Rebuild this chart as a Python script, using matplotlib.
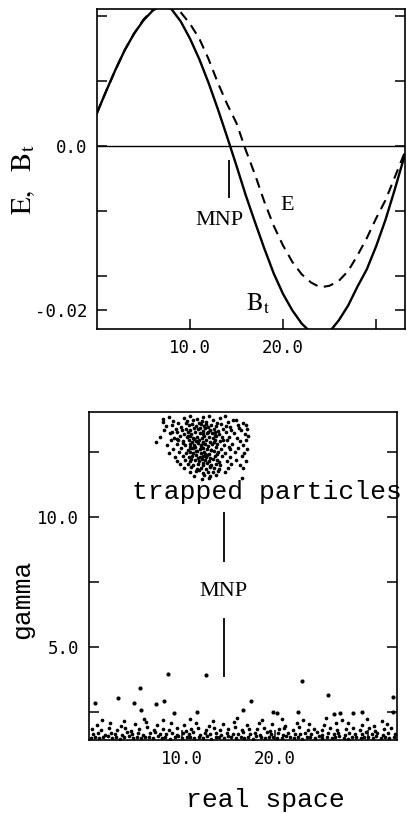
import numpy as np
import matplotlib
matplotlib.use('Agg')
import matplotlib.pyplot as plt

plt.rcParams['mathtext.fontset'] = 'stix'

# ---- top panel: fields along x ----
x_bt = [0.0, 1.0, 2.0, 3.0, 4.0, 5.0, 6.0, 7.0, 8.0, 9.0, 10.0, 11.0, 12.0, 13.0,
        14.0, 15.0, 16.0, 17.0, 18.0, 19.0, 20.0, 21.0, 22.0, 23.0, 24.0, 25.0,
        26.0, 27.0, 28.0, 29.0, 30.0, 31.0, 32.0, 33.1]
bt = [0.0040, 0.0067, 0.0093, 0.0117, 0.0137, 0.0153, 0.0165, 0.0172, 0.0167,
      0.0152, 0.0131, 0.0106, 0.0077, 0.0045, 0.0011, -0.0024, -0.0060, -0.0093,
      -0.0125, -0.0155, -0.0180, -0.0200, -0.0216, -0.0227, -0.0232, -0.0226,
      -0.0212, -0.0194, -0.0171, -0.0150, -0.0122, -0.0090, -0.0053, -0.0010]

x_e = [0.0, 1.0, 2.0, 3.0, 4.0, 5.0, 6.0, 7.0, 8.0, 9.0, 10.0, 11.0, 12.0, 13.0,
       14.0, 15.0, 16.0, 17.0, 18.0, 19.0, 20.0, 21.0, 22.0, 23.0, 24.0, 25.0,
       26.0, 27.0, 28.0, 29.0, 30.0, 31.0, 32.0, 33.1]
e_field = [0.0040, 0.0067, 0.0093, 0.0117, 0.0137, 0.0154, 0.0166, 0.0172, 0.0172,
           0.0163, 0.0149, 0.0131, 0.0106, 0.0077, 0.0051, 0.0028, -0.0005, -0.0035,
           -0.0068, -0.0097, -0.0121, -0.0141, -0.0156, -0.0166, -0.0172, -0.0170,
           -0.0164, -0.0152, -0.0133, -0.0112, -0.0088, -0.0066, -0.0038, -0.0007]

top_yticks = [-0.02, -0.0158, -0.0079, 0.0, 0.0079, 0.0158]
top_ylabels = ['-0.02', '', '', '0.0', '', '']
xticks = [10, 20, 30]
xlabels = ['10.0', '20.0', '']

# ---- bottom panel: particles ----
trap_x = [8.0, 8.6, 10.2, 10.9, 11.6, 12.3, 12.9, 14.1, 14.6, 15.8,
          7.9, 9.0, 9.6, 10.5, 11.2, 11.8, 12.1, 12.6, 13.3, 13.8, 14.9, 15.5, 16.6,
          8.3, 8.9, 9.9, 10.7, 11.1, 11.5, 12.0, 12.4, 12.8, 13.1, 13.6, 14.2, 15.1, 16.0, 16.9,
          8.1, 9.3, 10.0, 10.4, 10.9, 11.3, 11.7, 12.2, 12.5, 13.0, 13.4, 13.9, 14.4, 15.3, 16.3, 17.0,
          8.7, 9.5, 10.2, 10.6, 11.0, 11.4, 11.9, 12.3, 12.7, 13.2, 13.5, 14.0, 14.7, 15.6, 16.8,
          7.6, 9.1, 9.8, 10.5, 10.8, 11.2, 11.6, 12.1, 12.4, 12.9, 13.3, 13.7, 14.3, 15.0, 15.9, 17.1,
          7.2, 8.8, 9.6, 10.1, 10.7, 11.1, 11.5, 11.8, 12.2, 12.6, 13.0, 13.5, 14.1, 14.8, 16.2, 16.9,
          8.4, 9.4, 10.3, 10.9, 11.3, 11.7, 12.0, 12.5, 12.8, 13.2, 13.8, 14.5, 15.4, 16.6,
          9.0, 9.9, 10.6, 11.0, 11.4, 11.9, 12.3, 12.7, 13.1, 13.6, 14.2, 15.2, 16.0, 17.0,
          8.6, 9.7, 10.4, 10.8, 11.2, 11.6, 12.0, 12.4, 12.9, 13.4, 13.9, 14.6, 15.7, 16.7,
          9.2, 10.1, 10.7, 11.1, 11.5, 11.9, 12.2, 12.6, 13.0, 13.5, 14.3, 15.1, 16.4,
          9.5, 10.3, 10.9, 11.4, 11.8, 12.1, 12.5, 12.9, 13.3, 13.8, 14.8, 15.8, 16.9,
          9.8, 10.6, 11.2, 11.7, 12.3, 12.7, 13.1, 13.6, 14.1, 15.3, 16.2,
          10.2, 11.0, 11.6, 12.0, 12.6, 13.0, 13.4, 14.0, 14.9, 16.6,
          10.8, 11.5, 12.2, 12.8, 13.3, 13.9, 14.6,
          11.3, 12.4, 13.0, 13.7,
          12.1, 12.9, 16.4,
          10.4, 11.9, 12.8, 13.5, 11.3, 12.2, 10.9, 13.1, 12.5, 11.7, 14.0, 10.6,
          12.0, 13.4, 11.5, 12.7, 9.4, 15.0, 14.4, 11.0, 12.3, 13.0, 10.1, 16.1,
          8.9, 13.8, 12.6, 11.8, 11.2, 14.7]
trap_g = [13.80, 13.88, 13.84, 13.90, 13.78, 13.86, 13.92, 13.83, 13.89, 13.76,
          13.66, 13.72, 13.64, 13.70, 13.75, 13.62, 13.71, 13.67, 13.74, 13.63, 13.69, 13.73, 13.65,
          13.52, 13.57, 13.49, 13.55, 13.60, 13.50, 13.58, 13.53, 13.47, 13.56, 13.51, 13.59, 13.48, 13.54, 13.57,
          13.38, 13.42, 13.35, 13.41, 13.36, 13.44, 13.39, 13.33, 13.43, 13.37, 13.40, 13.34, 13.42, 13.38, 13.36, 13.41,
          13.24, 13.28, 13.21, 13.27, 13.22, 13.29, 13.25, 13.20, 13.26, 13.23, 13.30, 13.22, 13.27, 13.24, 13.21,
          13.10, 13.06, 13.12, 13.08, 13.14, 13.05, 13.11, 13.07, 13.13, 13.09, 13.04, 13.12, 13.08, 13.10, 13.06, 13.13,
          12.92, 12.96, 12.99, 12.93, 12.97, 12.91, 12.95, 12.98, 12.92, 12.96, 12.90, 12.97, 12.94, 12.99, 12.93, 12.96,
          12.80, 12.84, 12.77, 12.82, 12.78, 12.85, 12.79, 12.83, 12.76, 12.81, 12.84, 12.78, 12.82, 12.79,
          12.63, 12.67, 12.61, 12.66, 12.70, 12.62, 12.68, 12.64, 12.60, 12.69, 12.65, 12.62, 12.67, 12.64,
          12.48, 12.52, 12.46, 12.53, 12.49, 12.55, 12.47, 12.51, 12.45, 12.54, 12.50, 12.46, 12.52, 12.48,
          12.33, 12.37, 12.31, 12.36, 12.39, 12.32, 12.38, 12.34, 12.30, 12.37, 12.35, 12.31, 12.36,
          12.18, 12.22, 12.16, 12.21, 12.17, 12.24, 12.19, 12.15, 12.23, 12.20, 12.17, 12.22, 12.18,
          12.04, 12.07, 12.01, 12.06, 12.03, 12.08, 12.02, 12.05, 12.00, 12.07, 12.03,
          11.88, 11.92, 11.86, 11.91, 11.87, 11.93, 11.89, 11.85, 11.90, 11.88,
          11.74, 11.77, 11.72, 11.76, 11.73, 11.78, 11.75,
          11.60, 11.63, 11.58, 11.62,
          11.48, 11.52, 11.50,
          13.62, 13.45, 13.30, 13.17, 13.02, 12.88, 12.72, 12.58, 12.42, 12.27, 12.12, 13.15,
          12.75, 12.90, 12.57, 12.40, 13.00, 12.72, 12.97, 12.25, 12.10, 11.97, 12.85, 13.45,
          13.30, 12.45, 13.58, 11.83, 12.68, 13.52]

# sparse particles above the thermal band
hot_x = [0.65, 3.1, 4.85, 5.5, 5.6, 7.2, 8.1, 8.5, 9.1, 11.6, 12.6, 16.6, 17.4,
         19.8, 20.2, 22.5, 22.9, 25.7, 26.3, 27.0, 28.4, 29.3, 32.7, 32.7]
hot_g = [2.85, 3.04, 2.85, 3.42, 2.58, 2.81, 2.90, 3.96, 2.46, 2.50, 3.92, 2.58, 2.92,
         2.50, 2.46, 2.50, 3.69, 3.15, 2.40, 2.46, 2.46, 2.50, 3.08, 2.50]

# thermal band near the bottom
band_x = [0.2, 0.6, 1.1, 1.5, 2.0, 2.5, 2.9, 3.3, 3.8, 4.3, 4.7, 5.1, 5.6, 6.0, 6.4,
          6.9, 7.4, 7.8, 8.2, 8.7, 9.2, 9.6, 10.0, 10.5, 10.9, 11.3, 11.8, 12.3, 12.7,
          13.1, 13.6, 14.0, 14.5, 14.9, 15.3, 15.8, 16.3, 16.7, 17.1, 17.6, 18.0, 18.5,
          18.9, 19.4, 19.8, 20.2, 20.7, 21.2, 21.6, 22.0, 22.5, 22.9, 23.4, 23.8, 24.3,
          24.7, 25.1, 25.6, 26.1, 26.5, 26.9, 27.4, 27.8, 28.3, 28.7, 29.2, 29.6, 30.0,
          30.5, 30.9, 31.4, 31.8, 32.3, 32.8,
          0.4, 1.0, 1.7, 2.3, 2.8, 3.5, 4.1, 4.6, 5.3, 5.8, 6.5, 7.1, 7.6, 8.3, 8.9,
          9.4, 10.1, 10.7, 11.2, 11.9, 12.5, 13.0, 13.7, 14.2, 14.8, 15.5, 16.0, 16.6,
          17.3, 17.8, 18.4, 19.1, 19.6, 20.3, 20.9, 21.4, 22.1, 22.7, 23.2, 23.9, 24.5,
          25.0, 25.7, 26.3, 26.8, 27.5, 28.0, 28.6, 29.3, 29.8, 30.4, 31.0, 31.6, 32.2, 32.9,
          0.3, 1.3, 2.1, 3.0, 3.9, 4.5, 5.4, 6.2, 7.0, 7.9, 8.6, 9.5, 10.4, 11.0, 11.7,
          12.6, 13.4, 14.1, 14.9, 15.7, 16.4, 17.2, 18.1, 18.8, 19.5, 20.4, 21.0, 21.9,
          22.6, 23.5, 24.2, 25.1, 25.9, 26.7, 27.6, 28.4, 29.1, 30.1, 30.8, 31.7, 32.5,
          0.8, 2.2, 3.4, 4.9, 6.1, 7.3, 8.8, 10.2, 11.5, 12.9, 14.4, 15.6, 17.0, 18.3,
          19.7, 21.1, 22.4, 23.7, 25.3, 26.6, 27.9, 29.4, 30.6, 32.0,
          1.4, 3.7, 5.9, 8.0, 10.8, 13.3, 15.9, 18.6, 20.8, 23.0, 25.5, 27.2, 29.9, 31.5]
band_g = [1.50, 1.54, 1.48, 1.52, 1.55, 1.49, 1.53, 1.47, 1.51, 1.56, 1.50, 1.53, 1.48,
          1.54, 1.51, 1.49, 1.55, 1.50, 1.52, 1.47, 1.53, 1.56, 1.49, 1.51, 1.54, 1.48,
          1.52, 1.50, 1.55, 1.47, 1.53, 1.51, 1.49, 1.56, 1.52, 1.48, 1.54, 1.50, 1.53,
          1.47, 1.55, 1.51, 1.49, 1.52, 1.54, 1.48, 1.50, 1.56, 1.53, 1.49, 1.51, 1.47,
          1.54, 1.52, 1.50, 1.55, 1.48, 1.53, 1.49, 1.51, 1.56, 1.50, 1.47, 1.54, 1.52,
          1.49, 1.53, 1.51, 1.48, 1.55, 1.50, 1.52, 1.49, 1.54,
          1.64, 1.68, 1.61, 1.70, 1.66, 1.62, 1.72, 1.65, 1.69, 1.60, 1.67, 1.71, 1.63,
          1.66, 1.70, 1.62, 1.68, 1.64, 1.73, 1.61, 1.67, 1.65, 1.70, 1.62, 1.69, 1.66,
          1.63, 1.71, 1.64, 1.68, 1.61, 1.72, 1.65, 1.67, 1.62, 1.70, 1.66, 1.63, 1.69,
          1.64, 1.71, 1.60, 1.67, 1.65, 1.70, 1.62, 1.68, 1.66, 1.63, 1.72, 1.64, 1.69,
          1.61, 1.67, 1.64,
          1.82, 1.78, 1.86, 1.80, 1.88, 1.77, 1.84, 1.90, 1.79, 1.85, 1.81, 1.87, 1.76,
          1.83, 1.89, 1.80, 1.86, 1.78, 1.84, 1.91, 1.79, 1.85, 1.82, 1.88, 1.77, 1.83,
          1.87, 1.80, 1.90, 1.78, 1.85, 1.81, 1.88, 1.79, 1.84, 1.86, 1.80, 1.89, 1.77,
          1.83, 1.87,
          2.00, 2.06, 1.97, 2.03, 2.09, 1.98, 2.05, 2.01, 2.08, 1.96, 2.04, 2.10, 1.99,
          2.06, 2.02, 1.97, 2.07, 2.03, 1.99, 2.05, 2.08, 2.00, 1.96, 2.04,
          2.20, 2.16, 2.24, 2.18, 2.22, 2.15, 2.26, 2.19, 2.21, 2.17, 2.25, 2.18, 2.23, 2.16]

bot_yticks = [2.5, 5.0, 7.5, 10.0, 12.5]
bot_ylabels = ['', '5.0', '', '10.0', '']


def style_axes(ax):
    for s in ax.spines.values():
        s.set_linewidth(1.2)
    ax.tick_params(direction='in', length=7, width=1.1, right=True,
                   labelsize=12.5, pad=7)
    for lab in ax.get_xticklabels() + ax.get_yticklabels():
        lab.set_fontfamily('DejaVu Sans Mono')


fig = plt.figure(figsize=(4.07, 8.13), dpi=100)
ax1 = fig.add_axes([0.238, 0.595, 0.757, 0.394])
ax2 = fig.add_axes([0.219, 0.090, 0.756, 0.403])

# top panel
ax1.axhline(0.0, color='k', lw=1.0)
ax1.plot(x_bt, bt, color='k', lw=1.7)
ax1.plot(x_e, e_field, color='k', lw=1.5, ls=(0, (4.8, 3.2)))
ax1.set_xlim(0, 33.1)
ax1.set_ylim(-0.0223, 0.0167)
ax1.set_xticks(xticks)
ax1.set_xticklabels(xlabels)
ax1.set_yticks(top_yticks)
ax1.set_yticklabels(top_ylabels)
style_axes(ax1)
ax1.vlines(14.2, -0.0063, -0.0017, color='k', lw=1.3)
ax1.text(13.2, -0.0090, 'MNP', fontsize=16, family='Liberation Serif',
         ha='center', va='center')
ax1.text(20.5, -0.0072, 'E', fontsize=16, family='Liberation Serif',
         ha='center', va='center')
ax1.text(16.0, -0.0192, r'$\mathrm{B_t}$', fontsize=18, ha='left', va='center')
fig.text(0.057, 0.779, r'$\mathrm{E,\ \ B_t}$', fontsize=21, rotation=90,
         ha='center', va='center')

# bottom panel
ax2.scatter(trap_x, trap_g, s=7, color='k', lw=0)
ax2.scatter(hot_x, hot_g, s=9, color='k', lw=0)
ax2.scatter(band_x, band_g, s=7, color='k', lw=0)
ax2.set_xlim(0, 33.1)
ax2.set_ylim(1.42, 14.05)
ax2.set_xticks(xticks)
ax2.set_xticklabels(xlabels)
ax2.set_yticks(bot_yticks)
ax2.set_yticklabels(bot_ylabels)
style_axes(ax2)
ax2.vlines(14.5, 8.27, 10.19, color='k', lw=1.3)
ax2.vlines(14.5, 3.85, 6.12, color='k', lw=1.3)
ax2.text(14.4, 7.12, 'MNP', fontsize=16, family='Liberation Serif',
         ha='center', va='center')
ax2.text(4.6, 10.96, 'trapped particles', fontsize=19, family='Liberation Mono',
         ha='left', va='center', clip_on=False)
fig.text(0.055, 0.263, 'gamma', fontsize=19, family='Liberation Mono',
         rotation=90, ha='center', va='center')
fig.text(0.651, 0.016, 'real space', fontsize=19, family='Liberation Mono',
         ha='center', va='center')

fig.savefig('out.png', dpi=100)
